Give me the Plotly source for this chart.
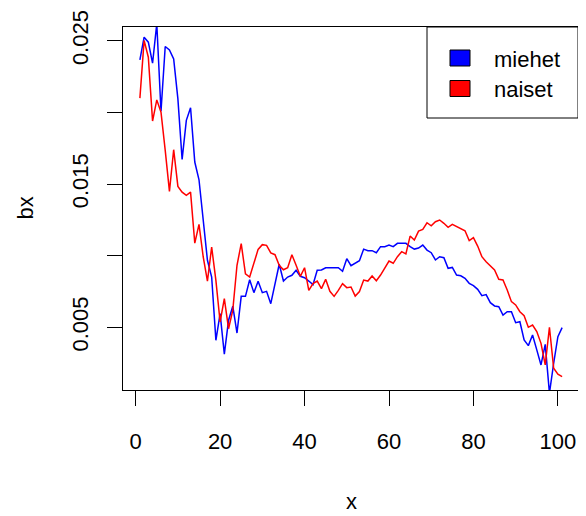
import plotly.graph_objects as go

ages = list(range(1, 102))

miehet = [0.02368, 0.02526, 0.02491, 0.02344, 0.0262, 0.02009, 0.02461, 0.02437, 0.02374, 0.02095,
          0.01672, 0.01945, 0.02033, 0.01654, 0.01530, 0.01247, 0.00968, 0.00851, 0.00409, 0.00595,
          0.00312, 0.00549, 0.00647, 0.00460, 0.00716, 0.00716, 0.00832, 0.00742, 0.00821, 0.00742,
          0.00751, 0.00665, 0.00793, 0.00940, 0.00823, 0.00851, 0.00863, 0.00898, 0.00856, 0.00846,
          0.00823, 0.00798, 0.00898, 0.00900, 0.00916, 0.00916, 0.00916, 0.00916, 0.00891, 0.00979,
          0.00930, 0.00947, 0.00965, 0.01046, 0.01035, 0.01035, 0.01021, 0.01063, 0.01063, 0.01074,
          0.01063, 0.01086, 0.01086, 0.01086, 0.01063, 0.01046, 0.01053, 0.01074, 0.01039, 0.01021,
          0.00970, 0.00993, 0.00986, 0.00912, 0.00918, 0.00865, 0.00860, 0.00842, 0.00807, 0.00791,
          0.00765, 0.00721, 0.00728, 0.00672, 0.00649, 0.00644, 0.00586, 0.00609, 0.00609, 0.00532,
          0.00539, 0.00411, 0.00372, 0.00446, 0.00342, 0.00237, 0.00381, 0.00040, 0.00249, 0.00435,
          0.00498]

naiset = [0.02100, 0.02503, 0.02386, 0.01940, 0.02088, 0.02002, 0.01735, 0.01449, 0.01740, 0.01484,
          0.01444, 0.01421, 0.01444, 0.01088, 0.01219, 0.00991, 0.00823, 0.01060, 0.00828, 0.00537,
          0.00700, 0.00490, 0.00619, 0.00933, 0.01084, 0.00874, 0.00851, 0.00944, 0.01044, 0.01077,
          0.01072, 0.01019, 0.01007, 0.00933, 0.00902, 0.00916, 0.01007, 0.00933, 0.00856, 0.00916,
          0.00758, 0.00805, 0.00823, 0.00770, 0.00835, 0.00751, 0.00716, 0.00758, 0.00805, 0.00777,
          0.00781, 0.00718, 0.00749, 0.00830, 0.00823, 0.00858, 0.00825, 0.00865, 0.00918, 0.00963,
          0.00947, 0.00993, 0.01028, 0.01012, 0.01137, 0.01109, 0.01172, 0.01184, 0.01230, 0.01209,
          0.01237, 0.01249, 0.01226, 0.01198, 0.01219, 0.01202, 0.01191, 0.01174, 0.01105, 0.01126,
          0.01067, 0.00993, 0.00958, 0.00928, 0.00900, 0.00835, 0.00830, 0.00760, 0.00679, 0.00656,
          0.00609, 0.00581, 0.00500, 0.00516, 0.00470, 0.00388, 0.00237, 0.00500, 0.00214, 0.00172,
          0.00156]

y_tickvals = [0.005, 0.010, 0.015, 0.020, 0.025]
y_ticktext = ["0.005", "", "0.015", "", "0.025"]
x_tickvals = [0, 20, 40, 60, 80, 100]
series_names = ["miehet", "naiset"]
series_colors = ["#0000FF", "#FF0000"]

FONT = "Liberation Sans, Arial, sans-serif"
OFF = 8  # page body margin in the browser
W, H = 586 - OFF, 516 - OFF
ML, MR, MT, MB = 123 - OFF, 7, 27 - OFF, 126
PW, PH = W - ML - MR, H - MT - MB


def px_x(px):
    return (px - OFF - ML) / PW


def px_y(py):
    return (H - MB - (py - OFF)) / PH


fig = go.Figure()
for name, vals, col in zip(series_names, [miehet, naiset], series_colors):
    fig.add_trace(go.Scatter(x=ages, y=vals, mode="lines", name=name,
                             line=dict(color=col, width=1.5), showlegend=False))

lo, hi = min(naiset), max(naiset)
pad = 0.04 * (hi - lo)
xlo, xhi = min(ages), max(ages)
xpad = 0.04 * (xhi - xlo)

axis_common = dict(showline=True, linecolor="black", linewidth=1, mirror=True,
                   ticks="outside", ticklen=15, tickwidth=1, tickcolor="black",
                   showgrid=False, zeroline=False, automargin=False,
                   tickfont=dict(family=FONT, size=22, color="black"))

# legend box drawn like R's legend()
shapes = [dict(type="rect", xref="paper", yref="paper",
               x0=px_x(427), x1=px_x(578), y0=px_y(118), y1=px_y(27),
               line=dict(color="black", width=1), fillcolor="white", layer="above")]
annotations = []
for k, (name, col) in enumerate(zip(series_names, series_colors)):
    cy = 58 + 30.5 * k
    shapes.append(dict(type="rect", xref="paper", yref="paper",
                       x0=px_x(450), x1=px_x(470), y0=px_y(cy + 8), y1=px_y(cy - 8),
                       line=dict(color="black", width=1), fillcolor=col, layer="above"))
    annotations.append(dict(text=name, xref="paper", yref="paper",
                            x=px_x(492), y=px_y(cy + 1), xanchor="left", yanchor="middle",
                            showarrow=False, font=dict(family=FONT, size=22, color="black")))

annotations += [
    dict(text="x", xref="paper", yref="paper", x=0.5, y=px_y(516),
         showarrow=False, xanchor="center", yanchor="bottom",
         font=dict(family=FONT, size=22, color="black")),
    dict(text="bx", xref="paper", yref="paper", x=px_x(25), y=0.5,
         textangle=-90, showarrow=False, xanchor="center", yanchor="middle",
         font=dict(family=FONT, size=22, color="black")),
]

fig.update_layout(
    width=W, height=H,
    margin=dict(l=ML, r=MR, t=MT, b=MB, autoexpand=False),
    paper_bgcolor="white", plot_bgcolor="white",
    font=dict(family=FONT, size=22, color="black"),
    showlegend=False,
    xaxis=dict(range=[xlo - xpad, xhi + xpad], tickvals=x_tickvals,
               ticklabelstandoff=17, **axis_common),
    yaxis=dict(range=[lo - pad, hi + pad], tickvals=y_tickvals, ticktext=y_ticktext,
               tickangle=-90, ticklabelstandoff=10, **axis_common),
    shapes=shapes,
    annotations=annotations,
)

fig.write_html("out.html")
